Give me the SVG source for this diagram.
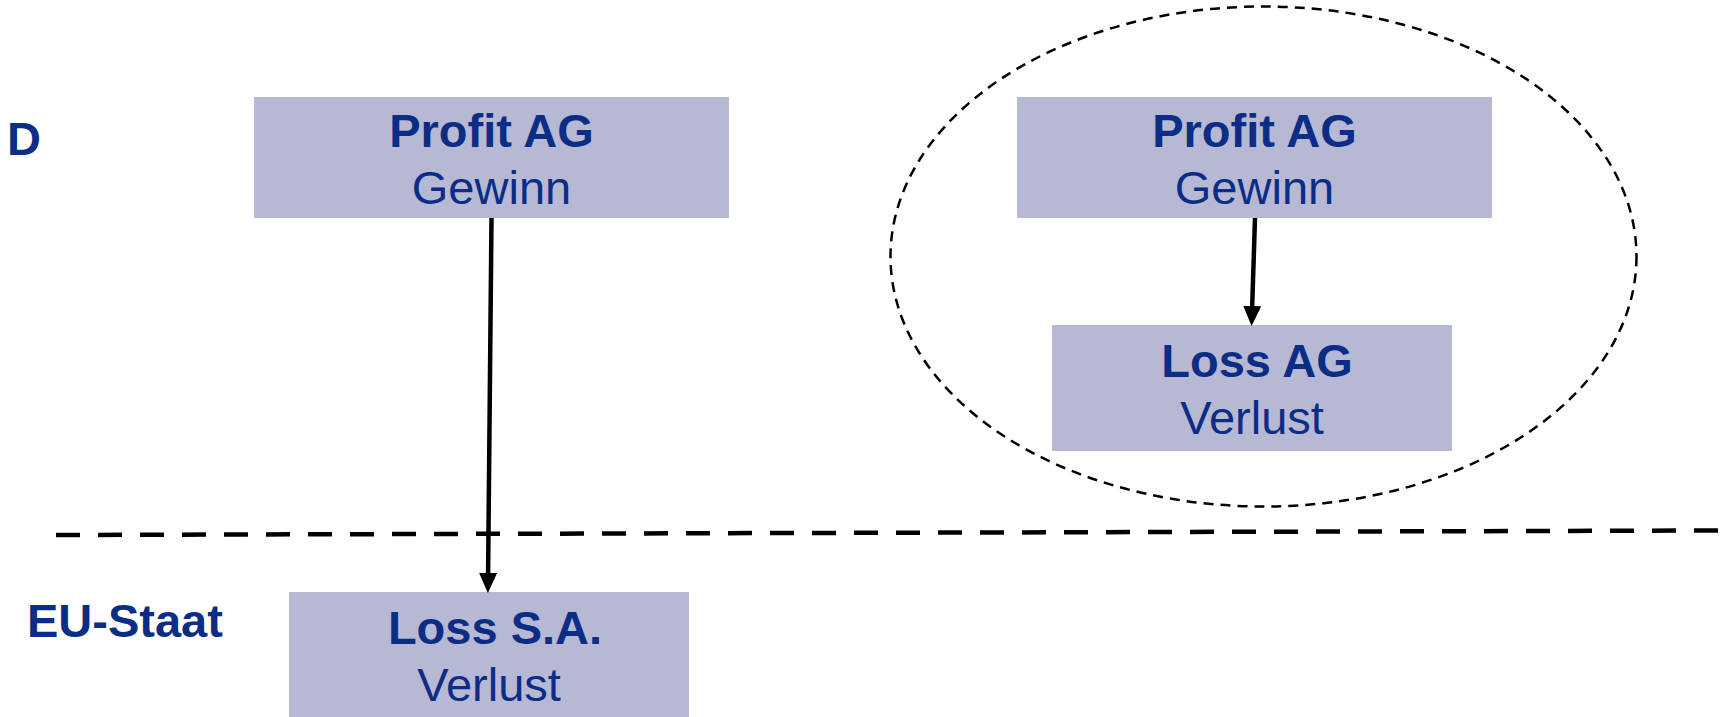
<svg xmlns="http://www.w3.org/2000/svg" width="1722" height="717" viewBox="0 0 1722 717">
<style>
.box{fill:#B7B9D4;}
.t{font-family:"Liberation Sans",Arial,sans-serif;fill:#0B2D86;text-anchor:middle;font-size:47px;}
.b{font-weight:bold;}
.lbl{font-family:"Liberation Sans",Arial,sans-serif;fill:#0B2D86;font-weight:bold;font-size:47px;}
.conn{stroke:#000;stroke-width:4.5;fill:none;}
</style>
<defs>
<marker id="ah" markerUnits="userSpaceOnUse" markerWidth="20" markerHeight="18" viewBox="0 0 20 18" refX="0" refY="9" orient="auto">
<path d="M0,0 L20,9 L0,18 z" fill="#000"/>
</marker>
</defs>
<rect width="1722" height="717" fill="#fff"/>
<g id="boundary">
<line x1="56" y1="535" x2="1722" y2="530.5" stroke="#000" stroke-width="4.5" stroke-dasharray="24 18"/>
<ellipse cx="1263.5" cy="256.5" rx="373" ry="250" fill="none" stroke="#000" stroke-width="2.5" stroke-dasharray="10 7"/>
</g>
<g id="label-D"><text class="lbl" x="7" y="155">D</text></g>
<g id="label-EU"><text class="lbl" x="27" y="637">EU-Staat</text></g>
<g id="profit-left">
<rect class="box" x="254" y="97" width="475" height="121"/>
<text class="t b" x="491.5" y="147">Profit AG</text>
<text class="t" x="491.5" y="204">Gewinn</text>
</g>
<g id="profit-right">
<rect class="box" x="1017" y="97" width="475" height="121"/>
<text class="t b" x="1254.5" y="147">Profit AG</text>
<text class="t" x="1254.5" y="204">Gewinn</text>
</g>
<g id="loss-ag">
<rect class="box" x="1052" y="325" width="400" height="126"/>
<text class="t b" x="1257" y="377">Loss AG</text>
<text class="t" x="1252" y="434">Verlust</text>
</g>
<g id="loss-sa">
<rect class="box" x="289" y="592" width="400" height="126"/>
<text class="t b" x="495" y="643.5">Loss S.A.</text>
<text class="t" x="489" y="701">Verlust</text>
</g>
<g id="connectors">
<path class="conn" d="M491.5,218 L488.1,573" marker-end="url(#ah)"/>
<path class="conn" d="M1255,218 L1252.2,306" marker-end="url(#ah)"/>
</g>
</svg>
